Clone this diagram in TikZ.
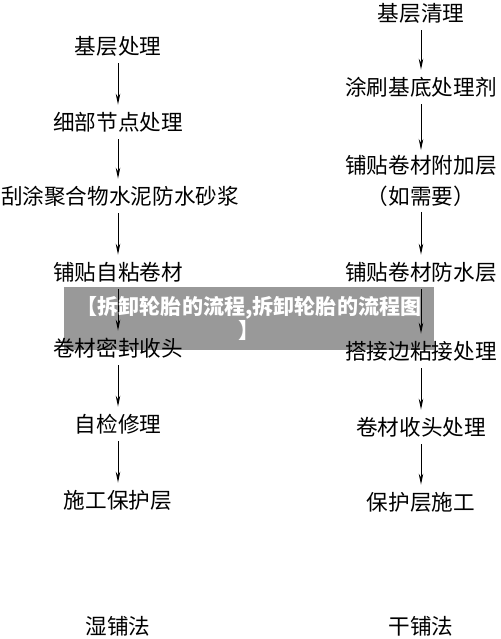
\documentclass[tikz,border=0pt]{standalone}
\usepackage{fontspec}
\setmainfont{Noto Sans CJK SC}
\usetikzlibrary{arrows.meta}

\begin{document}
\begin{tikzpicture}[x=0.2mm, y=-0.2mm,
    stepnode/.style={inner sep=0pt, minimum height=6.8mm, font=\fontsize{12.3}{16}\selectfont},
    flow/.style={-{Stealth[length=2.2mm, width=0.9mm]}, line width=0.5pt},
    banner/.style={fill=black, fill opacity=0.4, text=white, text opacity=1, minimum width=74mm,
        minimum height=12.6mm, align=center, font=\fontsize{12}{11.6}\selectfont\bfseries}]
    \useasboundingbox (0,0) rectangle (500,639);
    \node[stepnode] (l1) at (118,46) {基层处理};
    \node[stepnode] (l2) at (118,122) {细部节点处理};
    \node[stepnode] (l3) at (120,196) {刮涂聚合物水泥防水砂浆};
    \node[stepnode] (l4) at (118,272) {铺贴自粘卷材};
    \node[stepnode] (l5) at (118,348) {卷材密封收头};
    \node[stepnode] (l6) at (118,424) {自检修理};
    \node[stepnode] (l7) at (118,500) {施工保护层};
    \node[stepnode] (wet) at (118,626) {湿铺法};
    \node[stepnode] (r1) at (421,13) {基层清理};
    \node[stepnode] (r2) at (421,87) {涂刷基底处理剂};
    \node[stepnode, align=center, inner ysep=1mm, font=\fontsize{12.3}{17.6}\selectfont] (r3) at (421,181) {铺贴卷材附加层\\（如需要）};
    \node[stepnode] (r4) at (421,272) {铺贴卷材防水层};
    \node[stepnode] (r5) at (421,351) {搭接边粘接处理};
    \node[stepnode] (r6) at (421,427) {卷材收头处理};
    \node[stepnode] (r7) at (421,502) {保护层施工};
    \node[stepnode] (dry) at (421,626) {干铺法};
    \foreach \a/\b in {l1/l2, l2/l3, l3/l4, l4/l5, l5/l6, l6/l7}
        \draw[flow] (\a.south -| l1) -- (\b.north -| l1);
    \foreach \a/\b in {r1/r2, r2/r3, r3/r4, r4/r5, r5/r6, r6/r7}
        \draw[flow] (\a.south) -- (\b.north);
    \node[banner] (wm) at (249,318.5) {【拆卸轮胎的流程,拆卸轮胎的流程图\\】};
\end{tikzpicture}
\end{document}
